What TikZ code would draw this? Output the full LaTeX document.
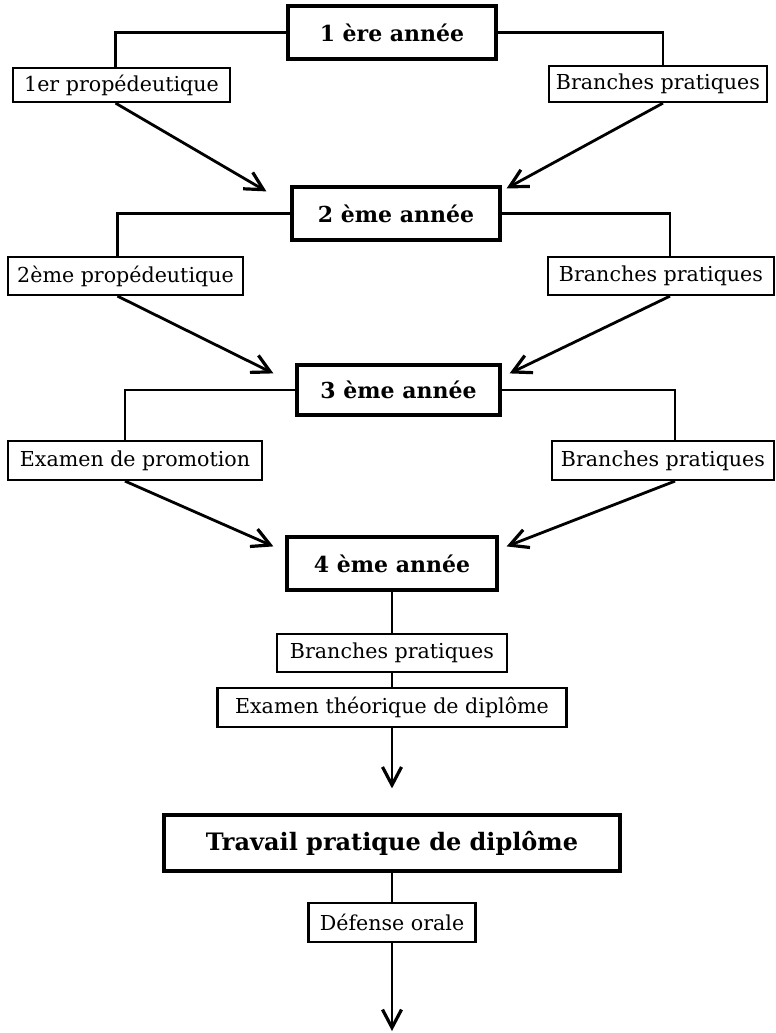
\documentclass[tikz,border=0pt]{standalone}
\usepackage{fontspec}
\setmainfont{DejaVu Serif}
\usetikzlibrary{arrows.meta}

\begin{document}
\begin{tikzpicture}[x=0.5pt,y=-0.5pt,
   yearbox/.style={draw,line width=1.6pt,inner sep=2pt,
      font=\fontsize{11}{13}\selectfont\bfseries},
   subbox/.style={draw,line width=1.1pt,inner sep=2pt,
      font=\fontsize{10.3}{12}\selectfont},
   link/.style={line width=1.1pt},
   flow/.style={line width=1.4pt,-{Straight Barb[length=9pt,width=9.5pt,line width=1.6pt]}}]
   \useasboundingbox (0,0) rectangle (776,1033);
   \node[yearbox,minimum width=104pt,minimum height=26.5pt] (y1) at (392,32.5) {1 ère année};
   \node[subbox,minimum width=108.5pt,minimum height=17pt] (p1) at (121.5,85) {1er propédeutique};
   \node[subbox,minimum width=109pt,minimum height=18pt] (b1) at (658,84) {Branches pratiques};
   \node[yearbox,minimum width=104pt,minimum height=26.5pt] (y2) at (396,213.5) {2 ème année};
   \node[subbox,minimum width=117.5pt,minimum height=19pt] (p2) at (125.5,276) {2ème propédeutique};
   \node[subbox,minimum width=113pt,minimum height=19pt] (b2) at (661,276) {Branches pratiques};
   \node[yearbox,minimum width=101.5pt,minimum height=25pt] (y3) at (398.5,390) {3 ème année};
   \node[subbox,minimum width=127pt,minimum height=19.5pt] (e3) at (135,460.5) {Examen de promotion};
   \node[subbox,minimum width=111pt,minimum height=19.5pt] (b3) at (663,460.5) {Branches pratiques};
   \node[yearbox,minimum width=105pt,minimum height=26.5pt] (y4) at (392,563.5) {4 ème année};
   \node[subbox,minimum width=115pt,minimum height=19pt] (b4) at (392,653) {Branches pratiques};
   \node[subbox,minimum width=174.5pt,minimum height=19.5pt] (ex) at (392,707.5) {Examen théorique de diplôme};
   \node[yearbox,minimum width=228pt,minimum height=28pt,
      font=\fontsize{12}{14}\selectfont\bfseries] (tr) at (392,843) {Travail pratique de diplôme};
   \node[subbox,minimum width=83.5pt,minimum height=19.5pt] (de) at (392,922.5) {Défense orale};
   \coordinate (fin) at (392,1031);
   \draw[link] (y1.west) -| ([xshift=-3pt]p1.north);
   \draw[link] (y1.east) -| ([xshift=2.5pt]b1.north);
   \draw[link] (y2.west) -| ([xshift=-4pt]p2.north);
   \draw[link] (y2.east) -| ([xshift=4.5pt]b2.north);
   \draw[link] (y3.west) -| ([xshift=-5pt]e3.north);
   \draw[link] (y3.east) -| ([xshift=6pt]b3.north);
   \draw[flow] ([xshift=-3pt]p1.south) -- ([shift={(-12pt,-3pt)}]y2.north west);
   \draw[flow] ([xshift=2.5pt]b1.south) -- ([shift={(2.5pt,-1.5pt)}]y2.north east);
   \draw[flow] ([xshift=-4pt]p2.south) -- ([shift={(-11pt,-5pt)}]y3.north west);
   \draw[flow] ([xshift=4.5pt]b2.south) -- ([shift={(4pt,-5pt)}]y3.north east);
   \draw[flow] ([xshift=-5pt]e3.south) -- ([shift={(-6pt,-5.5pt)}]y4.north west);
   \draw[flow] ([xshift=6pt]b3.south) -- ([shift={(4pt,-5.5pt)}]y4.north east);
   \draw[link] (y4.south) -- (b4.north);
   \draw[link] (b4.south) -- (ex.north);
   \draw[flow] (ex.south) -- ([yshift=12.5pt]tr.north);
   \draw[link] (tr.south) -- (de.north);
   \draw[flow] (de.south) -- (fin);
\end{tikzpicture}
\end{document}
